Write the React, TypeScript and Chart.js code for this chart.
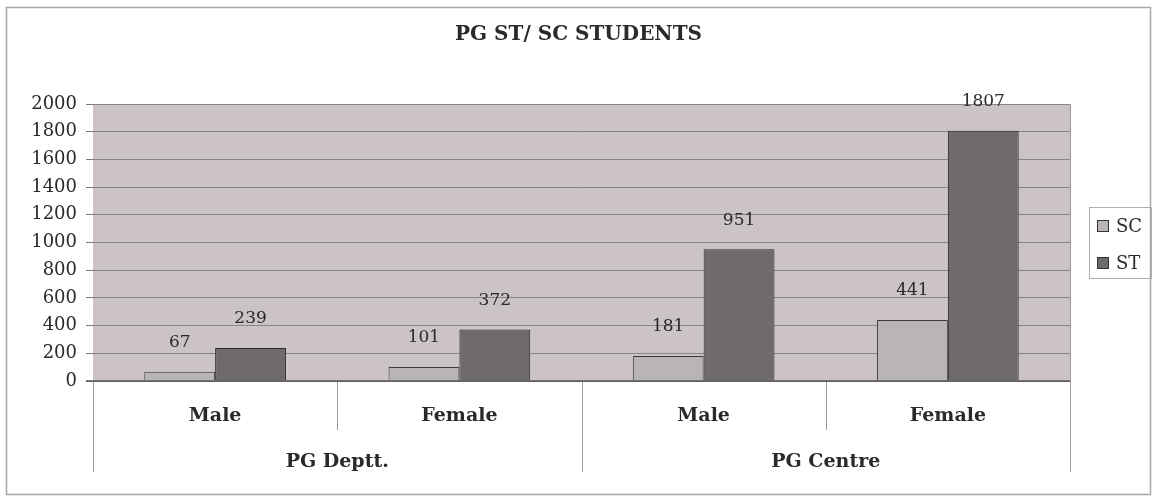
import React, { useEffect, useRef } from "react";
import { Chart, registerables } from "chart.js";

Chart.register(...registerables);

const titleText = "PG ST/ SC STUDENTS";
const groups = ["PG Deptt.", "PG Centre"];
const categories = ["Male", "Female", "Male", "Female"];
const seriesNames = ["SC", "ST"];
const scValues = [67, 101, 181, 441];
const stValues = [239, 372, 951, 1807];
const yMax = 2000;
const yStep = 200;

const SERIF = "'DejaVu Serif', 'Liberation Serif', serif";

const decorPlugin = {
  id: "decor",
  beforeDraw(chart: any) {
    const { ctx, chartArea } = chart;
    ctx.save();
    ctx.fillStyle = "#ffffff";
    ctx.fillRect(0, 0, chart.width, chart.height);
    ctx.strokeStyle = "#a8a8a8";
    ctx.lineWidth = 1.5;
    ctx.strokeRect(6.5, 7.5, chart.width - 13, chart.height - 9);
    ctx.fillStyle = "#cbc3c6";
    ctx.fillRect(chartArea.left, chartArea.top, chartArea.right - chartArea.left, chartArea.bottom - chartArea.top);
    ctx.restore();
  },
  afterDraw(chart: any) {
    const { ctx, chartArea } = chart;
    const xs = chart.scales.x;
    const n = categories.length;
    const w = (xs.right - xs.left) / n;
    ctx.save();
    ctx.strokeStyle = "#9a9a9a";
    ctx.lineWidth = 1;
    for (let i = 0; i <= n; i++) {
      const x = Math.round(xs.left + i * w) + 0.5;
      const bottom = i % 2 === 0 ? chartArea.bottom + 91 : chartArea.bottom + 49;
      ctx.beginPath();
      ctx.moveTo(x, i === n ? chartArea.top : chartArea.bottom);
      ctx.lineTo(x, bottom);
      ctx.stroke();
    }
    // zero axis line
    ctx.strokeStyle = "#555";
    ctx.lineWidth = 1.5;
    ctx.beginPath();
    ctx.moveTo(chartArea.left - 7, chartArea.bottom);
    ctx.lineTo(chartArea.right, chartArea.bottom);
    ctx.stroke();

    // data labels
    ctx.fillStyle = "#2a2a2a";
    ctx.font = "17px " + SERIF;
    ctx.textAlign = "center";
    ctx.textBaseline = "middle";
    chart.data.datasets.forEach((ds: any, di: number) => {
      const meta = chart.getDatasetMeta(di);
      meta.data.forEach((bar: any, i: number) => {
        ctx.fillText(String(ds.data[i]), bar.x, bar.y - 29);
      });
    });

    // legend
    const lx = chartArea.right + 19;
    const ly = 207;
    ctx.strokeStyle = "#b0b0b0";
    ctx.lineWidth = 1;
    ctx.strokeRect(lx + 0.5, ly + 0.5, 62, 71);
    ctx.textAlign = "left";
    chart.data.datasets.forEach((ds: any, di: number) => {
      const cy = ly + 19 + di * 37;
      ctx.fillStyle = ds.backgroundColor;
      ctx.fillRect(lx + 8, cy - 6, 12, 12);
      ctx.strokeStyle = "#333";
      ctx.strokeRect(lx + 8.5, cy - 5.5, 11, 11);
      ctx.fillStyle = "#2a2a2a";
      ctx.font = "18px " + SERIF;
      ctx.fillText(ds.label, lx + 27, cy + 1);
    });
    ctx.restore();
  },
};

export default function App() {
  const ref = useRef<HTMLCanvasElement | null>(null);
  useEffect(() => {
    document.body.style.margin = "0";
    const chart = new Chart(ref.current as HTMLCanvasElement, {
      type: "bar",
      data: {
        labels: categories,
        datasets: [
          {
            label: seriesNames[0],
            data: scValues,
            backgroundColor: "#b9b4b6",
            borderColor: "#3a3a3a",
            borderWidth: 1,
          },
          {
            label: seriesNames[1],
            data: stValues,
            backgroundColor: "#6f6b6d",
            borderColor: "#2a2a2a",
            borderWidth: 1,
          },
        ],
      },
      options: {
        animation: false,
        responsive: false,
        devicePixelRatio: 1,
        layout: { padding: { left: 0, right: 0, top: 0, bottom: 0 } },
        datasets: { bar: { barPercentage: 1, categoryPercentage: 0.58 } },
        plugins: {
          legend: { display: false },
          tooltip: { enabled: false },
          title: {
            display: true,
            text: titleText,
            color: "#2a2a2a",
            font: { family: SERIF, size: 20, weight: "bold" },
            padding: { top: 23, bottom: 57 },
          },
        },
        scales: {
          x: {
            type: "category",
            labels: categories,
            position: "bottom",
            grid: { display: false, drawTicks: false },
            border: { display: false },
            ticks: {
              color: "#2a2a2a",
              font: { family: SERIF, size: 19, weight: "bold" },
              padding: 24,
              maxRotation: 0,
            },
            afterFit(scale: any) {
              scale.height = 60;
            },
          },
          x2: {
            type: "category",
            labels: groups,
            position: "bottom",
            grid: { display: false, drawTicks: false },
            border: { display: false },
            ticks: {
              color: "#2a2a2a",
              font: { family: SERIF, size: 19, weight: "bold" },
              padding: 10,
              maxRotation: 0,
            },
            afterFit(scale: any) {
              scale.height = 55;
            },
          },
          y: {
            min: 0,
            max: yMax,
            ticks: {
              stepSize: yStep,
              color: "#2a2a2a",
              font: { family: SERIF, size: 18 },
              padding: 9,
              callback: (v: any) => String(v),
            },
            grid: { color: "#8a8486", tickLength: 7, tickColor: "#777" },
            border: { display: false },
            afterFit(scale: any) {
              scale.width = 93;
            },
          },
          yRight: {
            type: "linear",
            position: "right",
            min: 0,
            max: 1,
            grid: { display: false, drawTicks: false },
            border: { display: false },
            ticks: { display: false },
            afterFit(scale: any) {
              scale.width = 87;
            },
          },
        },
      },
      plugins: [decorPlugin],
    } as any);
    return () => chart.destroy();
  }, []);
  return <canvas ref={ref} width={1157} height={496} style={{ display: "block" }} />;
}
